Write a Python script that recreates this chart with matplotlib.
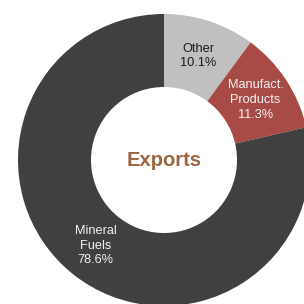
import matplotlib.pyplot as plt
import numpy as np

# export shares, clockwise from 12 o'clock
categorias = ['Other', 'Manufact.\nProducts', 'Mineral\nFuels']
valores = [10.1, 11.3, 78.6]
cores = ['#c0c0c0', '#a84a46', '#404040']
cor_texto = ['#1a1a1a', '#f2f2f2', '#f2f2f2']

rotulos = [c + '\n%.1f%%' % v for c, v in zip(categorias, valores)]

plt.rcParams['font.family'] = ['Liberation Sans', 'DejaVu Sans']

fig = plt.figure(figsize=(3.04, 3.04), dpi=100)
ax = fig.add_axes([0, 0, 1, 1])

centro = (164, 144)
raio = 146

fatias, textos = ax.pie(valores, labels=rotulos, colors=cores, startangle=90,
                        counterclock=False, center=centro, radius=raio,
                        labeldistance=0.75,
                        wedgeprops=dict(width=raio * 0.5, linewidth=0),
                        textprops=dict(fontsize=9.2))
for t, c in zip(textos, cor_texto):
    t.set_ha('center')
    t.set_va('center')
    t.set_color(c)
    t.set_linespacing(1.3)

ax.text(centro[0], centro[1] - 1, 'Exports', ha='center', va='center',
        fontsize=14.5, fontweight='bold', color='#9c6540')

ax.set_xlim(0, 304)
ax.set_ylim(0, 304)
ax.set_aspect('equal')
ax.axis('off')

plt.savefig('out.png', dpi=100)
